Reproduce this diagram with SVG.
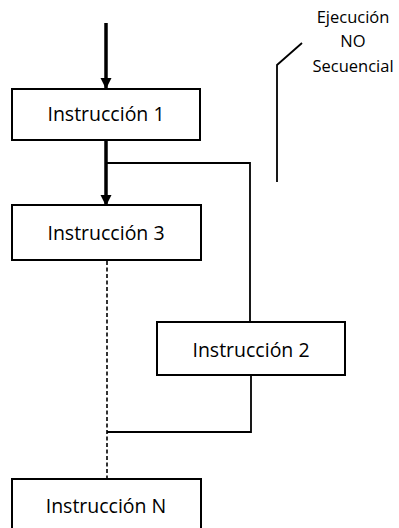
<svg xmlns="http://www.w3.org/2000/svg" width="399" height="528" viewBox="0 0 399 528">
<defs>
<style>
.box{fill:#fff;stroke:#000;stroke-width:2}
.lbl{font-family:"Open Sans","Liberation Sans",sans-serif;font-size:19.5px;fill:#000;text-anchor:middle}
.note{font-family:"Open Sans","Liberation Sans",sans-serif;font-size:16.5px;fill:#000;text-anchor:middle}
.thick{stroke:#000;stroke-width:3.5;fill:none}
.thin{stroke:#000;stroke-width:1.8;fill:none}
.dash{stroke:#000;stroke-width:1.6;fill:none;stroke-dasharray:4,2.5}
</style>
<marker id="ah" markerUnits="userSpaceOnUse" markerWidth="12" markerHeight="12" refX="10" refY="5.5" orient="auto">
<path d="M0,0 L11,5.5 L0,11 Z" fill="#000"/>
</marker>
</defs>
<rect width="399" height="528" fill="#fff"/>
<g id="connectors">
<line class="thick" x1="106" y1="23" x2="106" y2="88" marker-end="url(#ah)"/>
<line class="thick" x1="106" y1="140" x2="106" y2="205" marker-end="url(#ah)"/>
<polyline class="thin" points="106,163 250,163 250,322"/>
<polyline class="thin" points="251,375 251,432 107,432"/>
<line class="dash" x1="107" y1="261" x2="107" y2="484"/>
<polyline class="thin" points="277,182 277,65 302,43"/>
</g>
<g id="n1"><rect class="box" x="12" y="89" width="188" height="51"/><text class="lbl" x="106" y="121">Instrucción 1</text></g>
<g id="n3"><rect class="box" x="12" y="205" width="189" height="55"/><text class="lbl" x="106" y="240">Instrucción 3</text></g>
<g id="n2"><rect class="box" x="157" y="322" width="188" height="53"/><text class="lbl" x="251" y="357">Instrucción 2</text></g>
<g id="nN"><rect class="box" x="12" y="479" width="189" height="60"/><text class="lbl" x="106" y="513">Instrucción N</text></g>
<g id="note"><text class="note" x="353" y="23">Ejecución</text><text class="note" x="353" y="47">NO</text><text class="note" x="353" y="72">Secuencial</text></g>
</svg>
